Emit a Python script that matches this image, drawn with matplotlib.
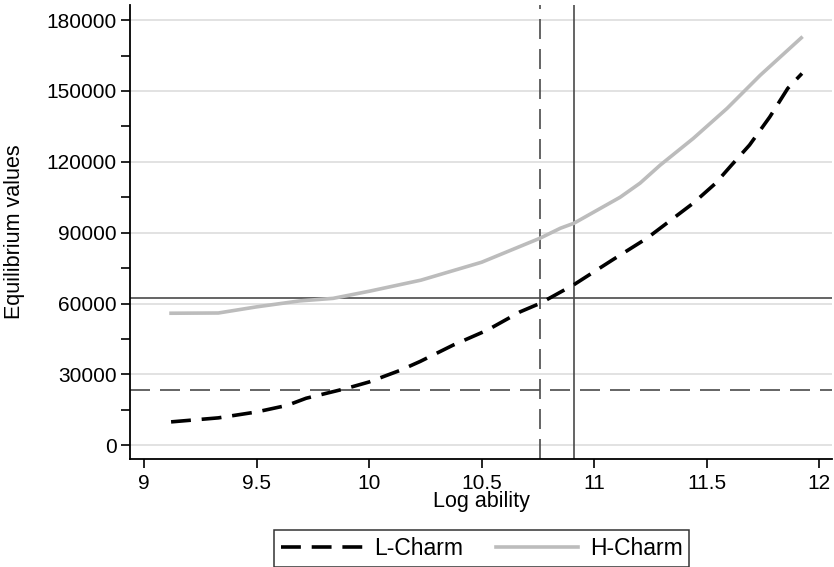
import numpy as np
from matplotlib import pyplot as plt

plt.rcParams['font.family'] = ['Liberation Sans', 'DejaVu Sans']

# values
l_x = [9.12, 9.33, 9.5, 9.636, 9.72, 9.90, 10.0, 10.14, 10.227, 10.373, 10.524,
       10.671, 10.76, 10.91, 11.08, 11.235, 11.44, 11.538, 11.61, 11.69, 11.78,
       11.86, 11.923]
l_y = [9900, 11600, 14100, 16900, 19900, 24100, 26800, 31800, 35500, 42400, 48700,
       56500, 60100, 68000, 78400, 87700, 102500, 110800, 118600, 127100, 139000,
       151100, 157400]

h_x = [9.12, 9.33, 9.5, 9.69, 9.84, 10.0, 10.23, 10.5, 10.76, 10.85, 10.91,
       11.115, 11.204, 11.293, 11.44, 11.59, 11.738, 11.92]
h_y = [55900, 56000, 58600, 61100, 62200, 65200, 69900, 77500, 87700, 91900, 94000,
       105000, 111000, 118600, 129900, 142600, 156700, 172500]

vline_dash = 10.76
vline_solid = 10.91
hline_solid = 62400
hline_dash = 23300

xticks = [9, 9.5, 10, 10.5, 11, 11.5, 12]
xticklabels = ['9', '9.5', '10', '10.5', '11', '11.5', '12']
yticks = [0, 30000, 60000, 90000, 120000, 150000, 180000]
yminor = [15000, 45000, 75000, 105000, 135000, 165000]

fig = plt.figure(figsize=(8.34, 5.67), dpi=100)
ax = fig.add_axes([0.156, 0.19, 0.842, 0.801])

for t in yticks:
    ax.axhline(t, color='#dadada', lw=1.1, zorder=0)

ref = '#4a4a4a'
ax.axvline(vline_dash, color=ref, lw=1.2, dashes=(12, 6), zorder=1)
ax.axvline(vline_solid, color=ref, lw=1.2, zorder=1)
ax.axhline(hline_solid, color=ref, lw=1.2, zorder=1)
ax.axhline(hline_dash, color=ref, lw=1.2, dashes=(12, 6), zorder=1)

ax.plot(l_x, l_y, color='black', lw=2.6, dashes=(5.5, 3), label='L-Charm', zorder=3)
ax.plot(h_x, h_y, color='#bcbcbc', lw=2.6, label='H-Charm', zorder=2)

ax.set_xlim(8.938, 12.058)
ax.set_ylim(-5930, 186360)
ax.set_xticks(xticks)
ax.set_xticklabels(xticklabels)
ax.set_yticks(yticks)
ax.set_yticks(yminor, minor=True)

for s in ['top', 'right']:
    ax.spines[s].set_visible(False)
for s in ['left', 'bottom']:
    ax.spines[s].set_linewidth(1.3)

ax.tick_params(axis='both', which='major', direction='out', length=6.5, width=1.2,
               labelsize=15)
ax.tick_params(axis='y', which='minor', direction='out', length=6.5, width=1.2)
ax.tick_params(axis='x', pad=4)
ax.tick_params(axis='y', pad=3)

ax.set_xlabel('Log ability', fontsize=15.5)
ax.xaxis.set_label_coords(0.5, -0.07)
ax.set_ylabel('Equilibrium values', fontsize=15.5)
ax.yaxis.set_label_coords(-0.15, 0.5)

leg = ax.legend(loc='upper center', bbox_to_anchor=(481.5 / 834, 1 - 530 / 567),
                bbox_transform=fig.transFigure, ncol=2,
                fontsize=16.5, frameon=True, fancybox=False, edgecolor='black',
                handlelength=3.6, handletextpad=0.5, columnspacing=1.4,
                borderpad=0.3, borderaxespad=0)
leg.get_frame().set_linewidth(1.1)

fig.savefig('out.png', dpi=100)
